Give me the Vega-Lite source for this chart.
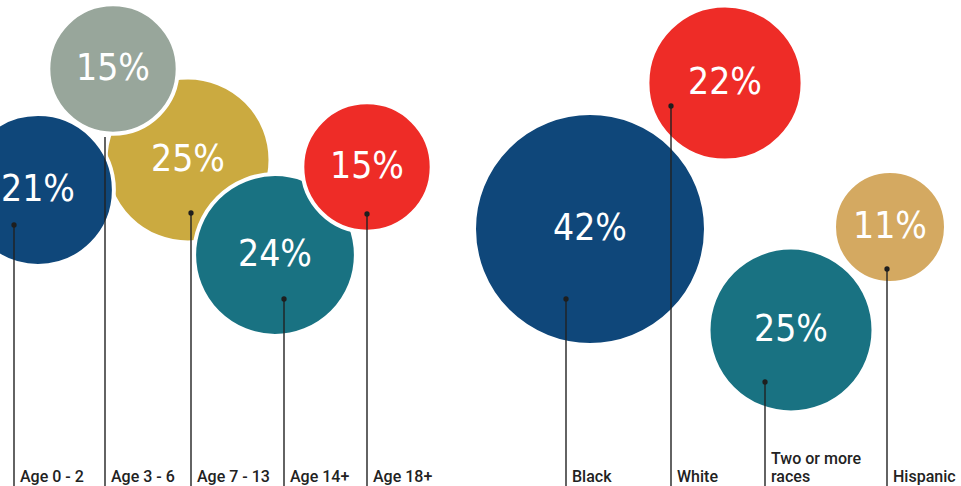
{
  "$schema": "https://vega.github.io/schema/vega-lite/v6.json",
  "width": 961,
  "height": 486,
  "padding": 0,
  "autosize": {"type": "none"},
  "background": "white",
  "config": {"view": {"stroke": null}},
  "data": {
    "values": [
      {"label": "Age 7 - 13", "text": "Age 7 - 13", "value": 0.25, "cx": 188, "cy": 160, "lx": 191, "ly": 213},
      {"label": "Age 0 - 2", "text": "Age 0 - 2", "value": 0.21, "cx": 38, "cy": 190, "lx": 14, "ly": 225},
      {"label": "Age 3 - 6", "text": "Age 3 - 6", "value": 0.15, "cx": 113, "cy": 69, "lx": 105, "ly": 137},
      {"label": "Age 14+", "text": "Age 14+", "value": 0.24, "cx": 275, "cy": 255, "lx": 284, "ly": 299},
      {"label": "Age 18+", "text": "Age 18+", "value": 0.15, "cx": 367, "cy": 167, "lx": 367, "ly": 214},
      {"label": "Black", "text": "Black", "value": 0.42, "cx": 590, "cy": 229, "lx": 566, "ly": 299},
      {"label": "White", "text": "White", "value": 0.22, "cx": 725, "cy": 83, "lx": 671, "ly": 106},
      {"label": "Two or more races", "text": ["Two or more", "races"], "value": 0.25, "cx": 791, "cy": 330, "lx": 765, "ly": 382},
      {"label": "Hispanic", "text": "Hispanic", "value": 0.11, "cx": 890, "cy": 227, "lx": 887, "ly": 269}
    ]
  },
  "encoding": {
    "x": {"field": "cx", "type": "quantitative", "scale": {"domain": [0, 961], "nice": false, "zero": false}, "axis": null},
    "y": {"field": "cy", "type": "quantitative", "scale": {"domain": [0, 486], "nice": false, "zero": false, "reverse": true}, "axis": null}
  },
  "layer": [
    {
      "mark": {"type": "circle", "opacity": 1, "stroke": "white", "strokeWidth": 4},
      "encoding": {
        "size": {"field": "value", "type": "quantitative", "scale": {"domain": [0.11, 0.25, 0.42], "range": [12544, 27225, 53824]}, "legend": null},
        "fill": {
          "field": "label",
          "type": "nominal",
          "legend": null,
          "scale": {
            "domain": ["Age 7 - 13", "Age 0 - 2", "Age 3 - 6", "Age 14+", "Age 18+", "Black", "White", "Two or more races", "Hispanic"],
            "range": ["#cbaa40", "#0f477a", "#98a69b", "#197282", "#ee2c27", "#0f477a", "#ee2c27", "#197282", "#d4a961"]
          }
        }
      }
    },
    {
      "mark": {"type": "text", "font": "Liberation Sans Narrow, DejaVu Sans Condensed, Roboto", "fontSize": 37, "color": "white", "align": "center", "baseline": "middle"},
      "encoding": {
        "text": {"field": "value", "type": "quantitative", "format": ".0%"}
      }
    },
    {
      "mark": {"type": "rule", "color": "#222222", "strokeWidth": 1.4},
      "encoding": {
        "x": {"field": "lx", "type": "quantitative"},
        "y": {"field": "ly", "type": "quantitative"},
        "y2": {"datum": 486}
      }
    },
    {
      "transform": [{"filter": "datum.label != 'Age 3 - 6'"}],
      "mark": {"type": "circle", "opacity": 1, "color": "#1e1e1e", "size": 28},
      "encoding": {
        "x": {"field": "lx", "type": "quantitative"},
        "y": {"field": "ly", "type": "quantitative"}
      }
    },
    {
      "transform": [{"filter": "!isArray(datum.text)"}],
      "mark": {"type": "text", "font": "Roboto", "fontSize": 16, "fontWeight": 500, "color": "#222222", "align": "left", "baseline": "alphabetic", "dx": 6},
      "encoding": {
        "x": {"field": "lx", "type": "quantitative"},
        "y": {"datum": 482},
        "text": {"field": "text"}
      }
    },
    {
      "transform": [{"filter": "isArray(datum.text)"}],
      "mark": {"type": "text", "font": "Roboto", "fontSize": 16, "fontWeight": 500, "color": "#222222", "align": "left", "baseline": "alphabetic", "dx": 6, "lineHeight": 18},
      "encoding": {
        "x": {"field": "lx", "type": "quantitative"},
        "y": {"datum": 464},
        "text": {"field": "text"}
      }
    }
  ]
}
